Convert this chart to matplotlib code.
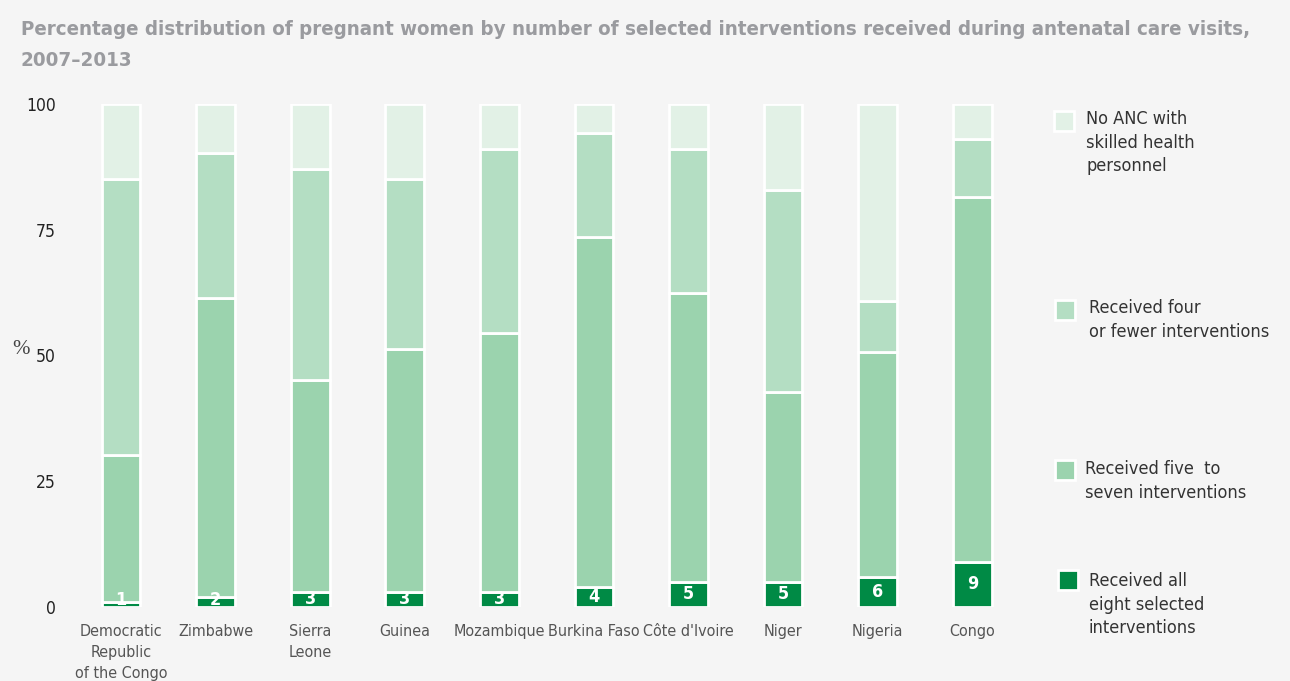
import matplotlib
matplotlib.use("Agg")
import matplotlib.pyplot as plt
from matplotlib.patches import Rectangle
import numpy as np

countries = ["Democratic\nRepublic\nof the Congo", "Zimbabwe", "Sierra\nLeone", "Guinea",
             "Mozambique", "Burkina Faso", "Côte d'Ivoire", "Niger", "Nigeria", "Congo"]
all_eight = [1, 2, 3, 3, 3, 4, 5, 5, 6, 9]
five_to_seven = [29.2, 59.4, 42.1, 48.3, 51.4, 69.6, 57.4, 37.8, 44.6, 72.5]
four_or_fewer = [54.9, 28.8, 42.0, 33.8, 36.7, 20.6, 28.7, 40.2, 10.2, 11.5]
no_anc = [14.9, 9.8, 12.9, 14.9, 8.9, 5.8, 8.9, 17.0, 39.2, 7.0]
yticks = [0, 25, 50, 75, 100]

title_lines = ["Percentage distribution of pregnant women by number of selected interventions received during antenatal care visits,",
               "2007\u20132013"]
legend_labels = ["No ANC with\nskilled health\npersonnel",
                 "Received four\nor fewer interventions",
                 "Received five  to\nseven interventions",
                 "Received all\neight selected\ninterventions"]

BG = "#f5f5f5"
C_DARK = "#008a45"
C_MID = "#9bd3ae"
C_LIGHT = "#b4dec3"
C_PALE = "#e2f1e6"
COND = dict(family="DejaVu Sans", fontstretch="condensed")

W, H = 1290, 681
fig = plt.figure(figsize=(W / 100, H / 100), dpi=100, facecolor=BG)
ax = fig.add_axes([60 / W, (H - 607) / H, 969 / W, 503 / H], facecolor=BG)

x = np.arange(len(countries))
width = 0.41
series = [(all_eight, C_DARK), (five_to_seven, C_MID), (four_or_fewer, C_LIGHT), (no_anc, C_PALE)]
bottom = np.zeros(len(countries))
for vals, col in series:
    ax.bar(x, vals, width, bottom=bottom, color=col, edgecolor="white", linewidth=2.0)
    bottom += np.array(vals)

for xi, v in zip(x, all_eight):
    ax.text(xi, max(v / 2, 1.45), str(v), ha="center", va="center", color="white",
            fontsize=13, fontweight="bold", **COND)

ax.set_xlim(-0.645, 9.6)
ax.set_ylim(0, 100)
ax.set_yticks(yticks)
ax.set_yticklabels([str(t) for t in yticks], fontsize=12.5, color="#222222", **COND)
ax.set_xticks(x)
ax.set_xticklabels(countries, fontsize=11.5, color="#555555", linespacing=1.5, va="top", **COND)
ax.tick_params(axis="both", length=0)
ax.tick_params(axis="x", pad=12)
ax.tick_params(axis="y", pad=3)
for s in ax.spines.values():
    s.set_visible(False)

fig.text(12 / W, 1 - 350 / H, "%", fontsize=15, family=["Liberation Serif", "DejaVu Serif"],
         color="#444444", va="center", ha="left")

for line, base in zip(title_lines, [35, 66]):
    fig.text(21 / W, 1 - base / H, line, fontsize=14.7, fontweight="bold", color="#9a9b9f",
             va="baseline", ha="left", **COND)

legend_colors = [C_PALE, C_LIGHT, C_MID, C_DARK]
sq_pos = [(1054, 111), (1055, 300), (1055, 460), (1058, 570)]
txt_pos = [(1086, 110), (1089, 299), (1085, 460), (1089, 572)]
for col, (sx, sy), (tx, ty), lab in zip(legend_colors, sq_pos, txt_pos, legend_labels):
    fig.add_artist(Rectangle((sx / W, 1 - (sy + 20) / H), 20 / W, 20 / H, transform=fig.transFigure,
                             facecolor=col, edgecolor="white", linewidth=2))
    fig.text(tx / W, 1 - ty / H, lab, fontsize=13, color="#333333", va="top", ha="left",
             linespacing=1.4, **COND)

fig.savefig("out.png", dpi=100, facecolor=BG)
